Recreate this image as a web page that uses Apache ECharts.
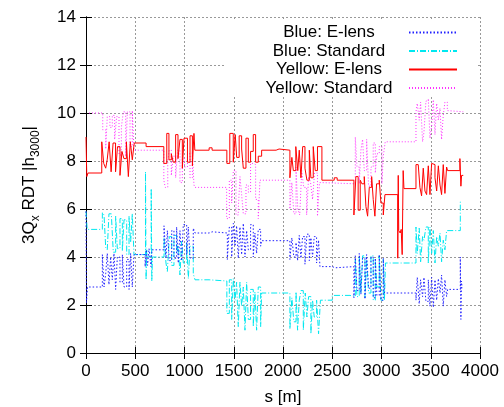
<!DOCTYPE html>
<html>
<head>
<meta charset="utf-8">
<script src="https://cdn.jsdelivr.net/npm/echarts@6/dist/echarts.min.js"></script>
<style>
  html, body { margin: 0; padding: 0; background: #fff; }
  #chart { width: 504px; height: 407px; }
</style>
</head>
<body>
<div id="chart"></div>
<script>
// [s (m), |h3000|], drawn as steps
var blueElens = [
  [0, 5.9], [5, 2.1], [15, 2.75], [166, 4.1], [183, 2.75], [200, 3.3], [216, 4.15], [233, 2.85],
  [250, 4.0], [267, 3.05], [284, 4.15], [301, 2.65], [318, 4.0], [345, 2.95], [369, 4.1], [386, 2.75],
  [413, 3.9], [437, 2.65], [453, 4.15], [470, 2.75], [487, 4.1], [600, 3.6], [612, 4.3], [625, 3.65],
  [640, 4.35], [660, 3.6], [670, 4.3], [792, 5.3], [812, 3.95], [826, 5.1], [846, 3.85], [870, 5.1],
  [893, 3.95], [920, 5.25], [937, 3.75], [954, 5.1], [971, 3.85], [988, 5.35], [1022, 4.1], [1039, 5.25],
  [1056, 3.95], [1089, 5.2], [1107, 5.0], [1250, 5.05], [1280, 5.0], [1435, 3.9], [1455, 5.25], [1479, 4.0],
  [1496, 5.4], [1513, 4.45], [1529, 5.3], [1546, 3.95], [1563, 5.25], [1580, 4.1], [1597, 5.4], [1614, 4.0],
  [1631, 5.1], [1648, 4.3], [1671, 5.35], [1698, 4.0], [1715, 5.0], [1732, 4.15], [1749, 5.15], [1773, 4.45],
  [1783, 4.68], [2070, 3.9], [2090, 4.8], [2110, 4.0], [2132, 4.6], [2148, 3.85], [2165, 4.9], [2182, 3.95],
  [2199, 4.85], [2223, 3.7], [2243, 4.95], [2267, 3.85], [2283, 4.8], [2300, 4.0], [2317, 4.85], [2341, 3.75],
  [2361, 4.7], [2375, 3.6], [2500, 3.55], [2530, 3.6], [2720, 2.3], [2734, 4.05], [2751, 2.6], [2774, 4.15],
  [2791, 2.45], [2808, 3.95], [2832, 2.25], [2849, 4.1], [2869, 2.7], [2893, 4.0], [2916, 2.3], [2937, 3.95],
  [2953, 2.4], [2977, 4.1], [2994, 2.2], [3018, 3.95], [3030, 2.5], [3350, 2.2], [3363, 3.15], [3383, 2.05],
  [3397, 3.05], [3417, 2.35], [3431, 3.15], [3451, 2.15], [3475, 3.05], [3492, 1.95], [3509, 3.15], [3526, 1.9],
  [3543, 3.05], [3560, 2.2], [3577, 3.1], [3594, 2.5], [3610, 3.25], [3627, 1.95], [3644, 3.05], [3661, 2.35],
  [3671, 2.65], [3800, 4.0], [3806, 1.4], [3812, 3.0], [3818, 2.7]
];

var blueStandard = [
  [0, 5.9], [12, 5.15], [166, 5.85], [183, 5.75], [200, 4.4], [216, 4.3], [233, 5.8], [257, 5.85],
  [277, 4.2], [301, 5.7], [318, 4.35], [345, 5.6], [369, 4.25], [386, 5.55], [413, 4.1], [437, 5.7],
  [453, 4.6], [470, 5.8], [487, 4.1], [604, 7.55], [610, 3.05], [616, 4.3], [625, 4.0], [662, 6.85],
  [668, 3.0], [675, 4.0], [792, 4.8], [812, 3.75], [826, 3.4], [846, 4.85], [870, 3.65], [893, 4.9],
  [920, 4.15], [937, 4.5], [954, 3.25], [971, 4.65], [988, 3.75], [1022, 4.6], [1039, 3.1], [1056, 4.45],
  [1089, 3.3], [1107, 3.05], [1250, 3.0], [1430, 1.65], [1455, 3.05], [1479, 1.4], [1496, 3.1], [1513, 2.2],
  [1529, 2.95], [1546, 1.1], [1563, 2.95], [1580, 1.95], [1597, 2.75], [1614, 0.95], [1631, 2.95], [1648, 1.4],
  [1671, 2.65], [1698, 1.1], [1715, 2.55], [1732, 0.95], [1749, 2.75], [1773, 1.1], [1783, 2.5], [2070, 1.0],
  [2090, 2.3], [2110, 1.3], [2132, 2.55], [2148, 0.95], [2165, 2.2], [2182, 2.6], [2206, 0.95], [2226, 2.5],
  [2243, 1.5], [2260, 2.35], [2283, 0.8], [2300, 2.2], [2317, 1.5], [2341, 2.2], [2361, 0.8], [2380, 2.2],
  [2500, 2.4], [2680, 2.35], [2734, 3.9], [2751, 2.35], [2774, 4.05], [2791, 2.5], [2808, 4.05], [2832, 2.3],
  [2849, 3.9], [2869, 2.5], [2893, 4.05], [2916, 2.2], [2937, 3.9], [2953, 2.75], [2977, 4.05], [2994, 2.2],
  [3018, 3.9], [3030, 2.2], [3040, 3.75], [3350, 5.25], [3363, 4.15], [3383, 5.2], [3397, 3.8], [3417, 4.85],
  [3431, 4.7], [3451, 5.25], [3475, 3.75], [3492, 5.25], [3509, 4.15], [3526, 5.1], [3543, 3.75], [3560, 4.85],
  [3577, 4.45], [3594, 5.0], [3610, 3.8], [3627, 4.7], [3644, 4.3], [3661, 5.1], [3800, 6.3], [3810, 6.3]
];

var yellowElens = [
  [0, 9.0], [8, 7.35], [20, 7.5], [160, 8.8], [180, 7.9], [200, 7.7], [215, 8.05], [235, 8.8],
  [255, 7.55], [275, 8.75], [300, 7.55], [320, 8.6], [345, 7.4], [365, 8.4], [385, 8.1], [410, 8.8],
  [430, 7.35], [450, 8.8], [470, 8.05], [490, 8.75], [610, 8.6], [790, 7.9], [820, 9.15], [842, 8.05],
  [866, 8.3], [886, 7.95], [910, 9.1], [934, 8.1], [954, 8.9], [978, 7.7], [995, 8.95], [1030, 7.95],
  [1056, 9.05], [1080, 7.8], [1096, 9.15], [1105, 8.45], [1250, 8.55], [1280, 8.45], [1430, 7.9], [1460, 9.15],
  [1495, 7.95], [1515, 9.1], [1530, 8.15], [1555, 9.05], [1580, 8.5], [1597, 7.7], [1624, 8.95], [1648, 7.95],
  [1671, 8.4], [1698, 9.1], [1722, 7.95], [1749, 8.2], [1783, 8.45], [1930, 8.5], [1960, 8.45], [2070, 7.3],
  [2090, 8.15], [2105, 7.6], [2130, 8.6], [2150, 7.6], [2165, 8.45], [2182, 7.3], [2200, 8.6], [2223, 7.7],
  [2243, 7.2], [2267, 8.45], [2283, 7.3], [2307, 8.6], [2327, 7.6], [2350, 8.6], [2395, 7.2], [2520, 7.3],
  [2550, 7.2], [2720, 5.75], [2740, 7.35], [2763, 5.95], [2784, 7.2], [2801, 7.05], [2825, 7.35], [2842, 6.1],
  [2859, 5.7], [2876, 6.9], [2900, 7.35], [2916, 6.4], [2933, 5.7], [2950, 7.05], [2977, 7.2], [2994, 6.25],
  [3018, 5.75], [3035, 6.6], [3165, 3.95], [3170, 7.4], [3175, 5.1], [3190, 5.0], [3200, 5.15], [3210, 4.1],
  [3220, 7.6], [3228, 6.85], [3350, 7.85], [3373, 7.8], [3390, 6.9], [3407, 6.55], [3424, 7.7], [3441, 6.75],
  [3458, 6.6], [3475, 7.8], [3492, 6.6], [3509, 7.9], [3526, 7.85], [3543, 7.3], [3560, 6.75], [3577, 7.8],
  [3594, 7.0], [3610, 6.6], [3627, 7.85], [3644, 6.65], [3661, 7.75], [3671, 7.6], [3796, 8.1], [3806, 6.95],
  [3813, 7.4], [3830, 7.4]
];

var yellowStandard = [
  [0, 10.0], [170, 9.3], [200, 8.5], [216, 9.85], [243, 9.4], [267, 9.9], [291, 8.9], [311, 9.85],
  [335, 8.25], [359, 9.4], [379, 10.05], [403, 8.2], [420, 10.05], [447, 8.6], [470, 10.1], [487, 8.45],
  [790, 7.2], [805, 6.9], [830, 8.0], [845, 8.45], [866, 7.4], [886, 8.2], [910, 7.3], [930, 8.45],
  [954, 7.1], [978, 8.1], [1000, 7.75], [1030, 8.3], [1056, 7.3], [1080, 8.4], [1096, 7.0], [1105, 6.9],
  [1428, 5.6], [1455, 7.2], [1479, 6.25], [1496, 7.6], [1523, 5.75], [1546, 6.0], [1563, 7.35], [1580, 6.6],
  [1597, 5.8], [1624, 7.0], [1648, 6.7], [1671, 7.9], [1698, 7.85], [1722, 6.4], [1749, 5.6], [1766, 7.2],
  [2070, 6.0], [2090, 7.1], [2110, 5.8], [2132, 7.75], [2150, 6.0], [2170, 5.75], [2190, 7.6], [2210, 6.9],
  [2240, 5.75], [2260, 7.35], [2280, 7.1], [2300, 6.4], [2320, 7.5], [2350, 5.7], [2370, 7.1], [2395, 7.05],
  [2734, 9.0], [2751, 7.75], [2774, 7.05], [2791, 8.45], [2808, 8.9], [2825, 7.6], [2849, 8.9], [2869, 6.95],
  [2893, 7.75], [2916, 8.75], [2937, 7.5], [2953, 8.3], [2977, 8.6], [3004, 7.05], [3018, 8.2], [3038, 8.8],
  [3350, 10.05], [3363, 10.4], [3383, 9.7], [3397, 10.45], [3417, 8.8], [3431, 9.2], [3451, 10.5], [3475, 10.6],
  [3492, 8.95], [3509, 9.45], [3526, 10.55], [3543, 9.1], [3560, 10.4], [3577, 9.7], [3594, 10.2], [3610, 8.9],
  [3627, 9.9], [3644, 10.45], [3668, 10.1], [3688, 10.05], [3830, 10.05]
];

var seriesNames = ['Blue: E-lens', 'Blue: Standard', 'Yellow: E-lens', 'Yellow: Standard'];

var font = '"Liberation Sans", Arial, sans-serif';
var chart = echarts.init(document.getElementById('chart'));

function stepLine(name, data, color, dash, z) {
  return {
    name: name,
    type: 'line',
    step: 'end',
    symbol: 'none',
    z: z,
    animation: false,
    data: data,
    lineStyle: { color: color, width: 1, type: dash },
    itemStyle: { color: color }
  };
}

var option = {
  backgroundColor: '#fff',
  animation: false,
  textStyle: { fontFamily: font },
  grid: { left: 86, right: 24, top: 17, bottom: 54, outerBoundsMode: 'none' },
  graphic: [
    {
      // gnuplot key box hides the grid behind it
      type: 'rect', z: 1,
      shape: { x: 224, y: 19, width: 254, height: 76 },
      style: { fill: '#fff' }
    }
  ],
  legend: {
    orient: 'vertical',
    align: 'right',
    right: 46,
    top: 24,
    padding: 0,
    itemGap: 1.5,
    itemWidth: 48,
    itemHeight: 14,
    data: seriesNames,
    itemStyle: { opacity: 0 },
    formatter: function (name) { return '{c|' + name + '}'; },
    textStyle: {
      fontFamily: font,
      fontSize: 17,
      color: '#000',
      rich: { c: { width: 150, align: 'center', fontSize: 17, lineHeight: 18.5, fontFamily: font } }
    }
  },
  xAxis: [
    {
      type: 'value', min: 0, max: 4000, interval: 500,
      name: 's [m]', nameLocation: 'middle', nameGap: 36,
      nameTextStyle: { fontSize: 17, color: '#000', fontFamily: font },
      axisLine: { show: true, lineStyle: { color: '#000', width: 1 } },
      axisTick: { inside: true, length: 6, lineStyle: { color: '#000' } },
      axisLabel: { fontSize: 17, color: '#000', margin: 10, fontFamily: font,
        formatter: function (v) { return String(v); } },
      splitLine: { show: true, lineStyle: { color: '#999', type: [2, 2], width: 1 } }
    },
    {
      type: 'value', min: 0, max: 4000, interval: 500, position: 'top', z: 3,
      axisLine: { show: true, lineStyle: { color: '#000', width: 1 } },
      axisTick: { inside: true, length: 6, lineStyle: { color: '#000' } },
      axisLabel: { show: false },
      splitLine: { show: false }
    }
  ],
  yAxis: [
    {
      type: 'value', min: 0, max: 14, interval: 2,
      name: '{m|3Q}{s|x}{m| RDT |h}{s|3000}{m||}',
      nameLocation: 'middle', nameGap: 44,
      nameTextStyle: {
        color: '#000',
        rich: {
          m: { fontSize: 17, fontFamily: font, color: '#000', padding: [0, 0, 4, 0], verticalAlign: 'bottom' },
          s: { fontSize: 12, fontFamily: font, color: '#000', verticalAlign: 'bottom' }
        }
      },
      axisLine: { show: true, lineStyle: { color: '#000', width: 1 } },
      axisTick: { inside: true, length: 6, lineStyle: { color: '#000' } },
      axisLabel: { fontSize: 17, color: '#000', margin: 10, fontFamily: font },
      splitLine: { show: true, lineStyle: { color: '#999', type: [2, 2], width: 1 } }
    },
    {
      type: 'value', min: 0, max: 14, interval: 2, position: 'right', z: 3,
      axisLine: { show: true, lineStyle: { color: '#000', width: 1 } },
      axisTick: { inside: true, length: 6, lineStyle: { color: '#000' } },
      axisLabel: { show: false },
      splitLine: { show: false }
    }
  ],
  series: [
    stepLine(seriesNames[0], blueElens, '#2020ff', [1.5, 2], 5),
    stepLine(seriesNames[1], blueStandard, '#00e8f0', [6, 2, 1, 2], 4),
    stepLine(seriesNames[2], yellowElens, '#ff0000', 'solid', 3),
    stepLine(seriesNames[3], yellowStandard, '#ff30ff', [1, 2], 2)
  ]
};

chart.setOption(option);
</script>
</body>
</html>
